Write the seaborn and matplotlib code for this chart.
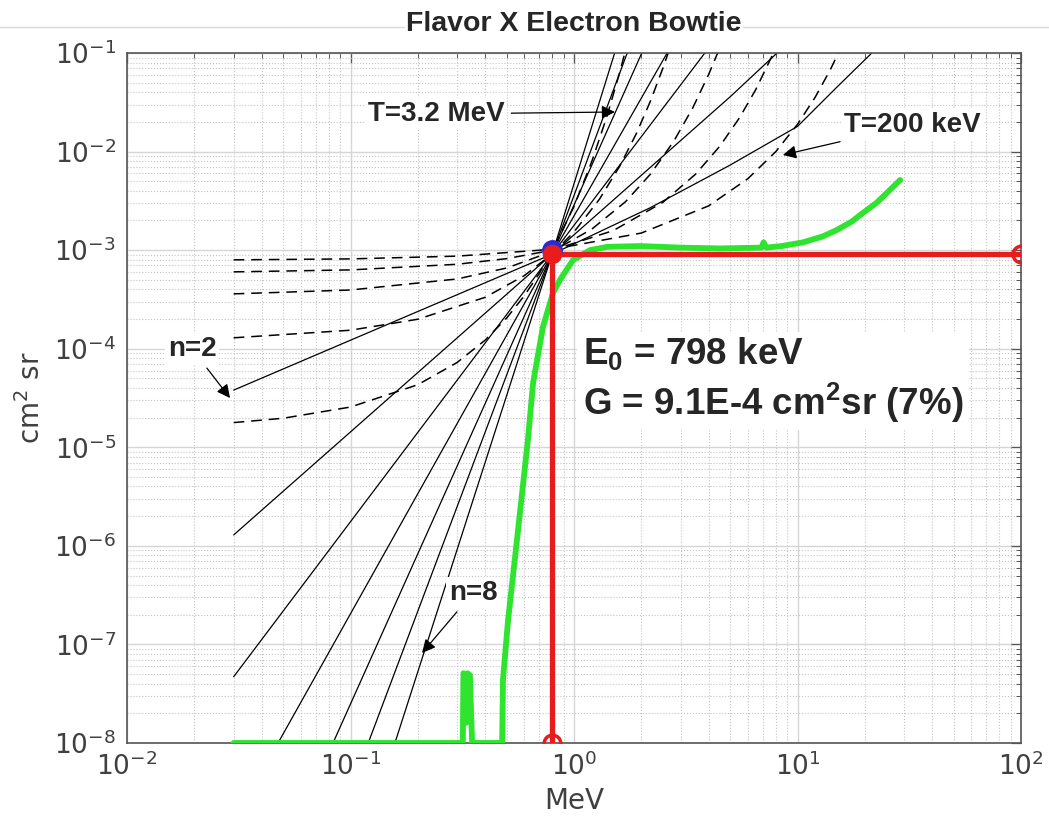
import numpy as np
import pandas as pd
import matplotlib
matplotlib.use('Agg')
import matplotlib.pyplot as plt
from matplotlib.lines import Line2D
from matplotlib.ticker import LogLocator, NullFormatter
import seaborn as sns

# power-law bowtie curves (solid lines), spectral index n
solid_n = [2, 3, 4, 5, 6, 7, 8]
solid_E = [
    [0.03, 0.1, 0.3, 0.798, 2.2, 5.0, 10.0, 15.0, 21.5],
    [0.03, 0.798, 5.0, 8.1],
    [0.03, 0.798, 3.85],
    [0.0474, 0.798, 2.61],
    [0.0835, 0.798, 2.01],
    [0.120, 0.798, 1.73],
    [0.158, 0.798, 1.52],
]
solid_G = [
    [3.8e-5, 1.22e-4, 3.53e-4, 9.1e-4, 2.7e-3, 7.3e-3, 1.8e-2, 4.5e-2, 0.1],
    [1.29e-6, 9.1e-4, 0.036, 0.1],
    [4.7e-8, 9.1e-4, 0.1],
    [1e-8, 9.1e-4, 0.1],
    [1e-8, 9.1e-4, 0.1],
    [1e-8, 9.1e-4, 0.1],
    [1e-8, 9.1e-4, 0.1],
]

# exponential bowtie curves (dashed lines), e-folding energy T
dashed_T = ['3.2 MeV', '1.6 MeV', '800 keV', '400 keV', '200 keV']
dashed_E = [
    [0.03, 0.1, 0.3, 0.8, 2.0, 4.0, 6.0, 8.0, 10.0, 12.0, 14.0, 15.3],
    [0.03, 0.1, 0.3, 0.5, 0.8, 1.5, 2.5, 3.5, 4.5, 5.5, 6.5, 7.8],
    [0.03, 0.1, 0.3, 0.5, 0.8, 1.2, 1.7, 2.2, 2.8, 3.4, 4.0, 4.4],
    [0.03, 0.1, 0.2, 0.4, 0.6, 0.8, 1.0, 1.3, 1.6, 1.9, 2.2, 2.5, 2.65],
    [0.03, 0.05, 0.1, 0.2, 0.3, 0.4, 0.5, 0.6, 0.7, 0.8, 1.0, 1.2, 1.4, 1.6, 1.68],
]
dashed_G = [
    [7.97e-4, 8.15e-4, 8.69e-4, 1.02e-3, 1.49e-3, 2.81e-3, 5.31e-3, 1.0e-2, 1.89e-2, 3.56e-2, 6.72e-2, 0.102],
    [6.02e-4, 6.30e-4, 7.19e-4, 8.2e-4, 9.99e-4, 1.58e-3, 3.06e-3, 5.9e-3, 1.14e-2, 2.20e-2, 4.24e-2, 0.0997],
    [3.6e-4, 3.94e-4, 5.10e-4, 6.59e-4, 9.71e-4, 1.63e-3, 3.10e-3, 5.92e-3, 1.28e-2, 2.78e-2, 6.03e-2, 0.101],
    [1.29e-4, 1.54e-4, 1.99e-4, 3.32e-4, 5.52e-4, 9.20e-4, 1.53e-3, 3.29e-3, 7.08e-3, 1.52e-2, 3.27e-2, 7.04e-2, 0.103],
    [1.78e-5, 1.97e-5, 2.56e-5, 4.31e-5, 7.25e-5, 1.22e-4, 2.05e-4, 3.46e-4, 5.83e-4, 9.80e-4, 2.78e-3, 7.88e-3, 2.23e-2, 6.32e-2, 0.096],
]

# simulated instrument response (green)
green_E = [0.03, 0.318, 0.320, 0.326, 0.329, 0.333, 0.342, 0.350, 0.477, 0.481, 0.507, 0.56,
           0.622, 0.656, 0.726, 0.805, 0.865, 0.99, 1.18, 1.41, 1.97, 3.0, 4.5, 6.9, 7.05, 7.25,
           8.5, 10.6, 13.0, 15.0, 17.5, 19.6, 22.5, 25.1, 28.8]
green_G = [1e-8, 1e-8, 5.1e-8, 4.9e-8, 1.6e-8, 5.1e-8, 4.9e-8, 1e-8, 1e-8, 4.4e-8, 1.77e-7, 1.35e-6,
           1.19e-5, 4.49e-5, 1.66e-4, 3.67e-4, 4.98e-4, 7.94e-4, 1.0e-3, 1.08e-3, 1.1e-3, 1.06e-3, 1.04e-3,
           1.06e-3, 1.2e-3, 1.06e-3, 1.1e-3, 1.2e-3, 1.38e-3, 1.6e-3, 1.95e-3, 2.38e-3, 3.0e-3, 3.8e-3, 5.15e-3]

# bowtie result
E0 = 0.798
G0 = 9.1e-4
E_max = 100
G_floor = 1e-8
red_E = [E0, E0, E_max]
red_G = [G_floor, G0, G0]
blue_E = 0.80
blue_G = 1.0e-3

x_ticks = [1e-2, 1e-1, 1e0, 1e1, 1e2]
y_ticks = [1e-8, 1e-7, 1e-6, 1e-5, 1e-4, 1e-3, 1e-2, 1e-1]

solid_df = pd.concat([pd.DataFrame({'E': e, 'G': g, 'n': n})
                      for n, e, g in zip(solid_n, solid_E, solid_G)], ignore_index=True)
dashed_df = pd.concat([pd.DataFrame({'E': e, 'G': g, 'T': t})
                       for t, e, g in zip(dashed_T, dashed_E, dashed_G)], ignore_index=True)

sns.set_theme(style='white')
plt.rcParams['font.family'] = ['DejaVu Sans']
plt.rcParams['axes.unicode_minus'] = False
plt.rcParams['mathtext.fontset'] = 'custom'
plt.rcParams['mathtext.rm'] = 'Liberation Sans:bold'
plt.rcParams['mathtext.bf'] = 'Liberation Sans:bold'

fig, ax = plt.subplots(figsize=(10.49, 8.32), dpi=100)
fig.subplots_adjust(left=0.1211, right=0.9733, bottom=0.107, top=0.9363)
ax.set_xscale('log')
ax.set_yscale('log')

sns.lineplot(data=solid_df, x='E', y='G', units='n', estimator=None, sort=False,
             color='black', lw=0.9, ax=ax, legend=False, zorder=2)
sns.lineplot(data=dashed_df, x='E', y='G', units='T', estimator=None, sort=False,
             color='black', lw=1.1, dashes=(7, 4.5), ax=ax, legend=False, zorder=2)
sns.lineplot(x=green_E, y=green_G, estimator=None, sort=False,
             color='#2fe42f', lw=4.2, ax=ax, zorder=3)
sns.lineplot(x=red_E, y=red_G, estimator=None, sort=False,
             color='#e81c1c', lw=3.8, ax=ax, zorder=4)
ax.plot([red_E[0], red_E[-1]], [red_G[0], red_G[-1]], 'o', mfc='none', mec='#e81c1c',
        ms=12, mew=2.5, zorder=5)
ax.plot([blue_E], [blue_G], 'o', color='#2b2bd6', ms=14, zorder=5)
ax.plot([E0], [G0], 'o', color='#e81c1c', ms=13, zorder=6)

ax.set_xlim(1e-2, 1e2)
ax.set_ylim(1e-8, 1e-1)
ax.set_xticks(x_ticks)
ax.set_yticks(y_ticks)
for axis in (ax.xaxis, ax.yaxis):
    axis.set_minor_locator(LogLocator(base=10, subs=np.arange(2, 10), numticks=20))
    axis.set_minor_formatter(NullFormatter())

ax.grid(True, which='major', color='#d6d6d6', lw=1.0, ls='-')
ax.grid(True, which='minor', color='#c4c4c4', lw=0.8, ls=':')
ax.set_axisbelow(True)
ax.tick_params(which='both', direction='in', top=True, right=True, color='#555555',
               labelcolor='#404040', labelsize=19)
ax.tick_params(which='major', length=7, width=0.9)
ax.tick_params(which='minor', length=3.5, width=0.7)
ax.tick_params(axis='x', pad=7)
ax.tick_params(axis='y', pad=8)
for sp in ax.spines.values():
    sp.set_color('#555555')
    sp.set_linewidth(1.2)

ax.set_xlabel('MeV', fontsize=20, color='#404040', labelpad=4)
ax.set_ylabel(r'cm$^{\mathdefault{2}}$ sr', fontsize=20, color='#404040', labelpad=6)
ax.set_title('Flavor X Electron Bowtie', fontsize=20.5, fontweight='bold',
             family='Liberation Sans', pad=16,
             bbox=dict(fc='white', ec='none', pad=1))
fig.add_artist(Line2D([0, 1], [1 - 27 / 832] * 2, transform=fig.transFigure,
                      color='#d8d8d8', lw=1, zorder=-1))

lab = dict(fontsize=20, fontweight='bold', family='Liberation Sans', ha='center', va='center',
           bbox=dict(fc='white', ec='none', pad=2))
arrow = dict(arrowstyle='-|>', color='black', lw=0.9, mutation_scale=20, shrinkA=3, shrinkB=0)
ax.annotate('T=3.2 MeV', xy=(1.525, 0.0252), xytext=(0.2413, 0.02405), arrowprops=arrow, **lab)
ax.annotate('T=200 keV', xy=(8.6, 9.23e-3), xytext=(32.5, 0.01862), arrowprops=arrow, **lab)
ax.annotate('n=2', xy=(0.0289, 3.16e-5), xytext=(0.01955, 9.93e-5), arrowprops=arrow, **lab)
ax.annotate('n=8', xy=(0.209, 8.18e-8), xytext=(0.353, 3.33e-7), arrowprops=arrow, **lab)

ax.text(1.097, 4.8e-5, 'E$_{\\mathbf{0}}$ = 798 keV\nG = 9.1E-4 cm$^{\\mathbf{2}}$sr (7%)',
        fontsize=26.5, fontweight='bold', family='Liberation Sans', ha='left', va='center',
        linespacing=1.2, bbox=dict(fc='white', ec='none', pad=4), zorder=7)

fig.savefig('out.png', dpi=100)
